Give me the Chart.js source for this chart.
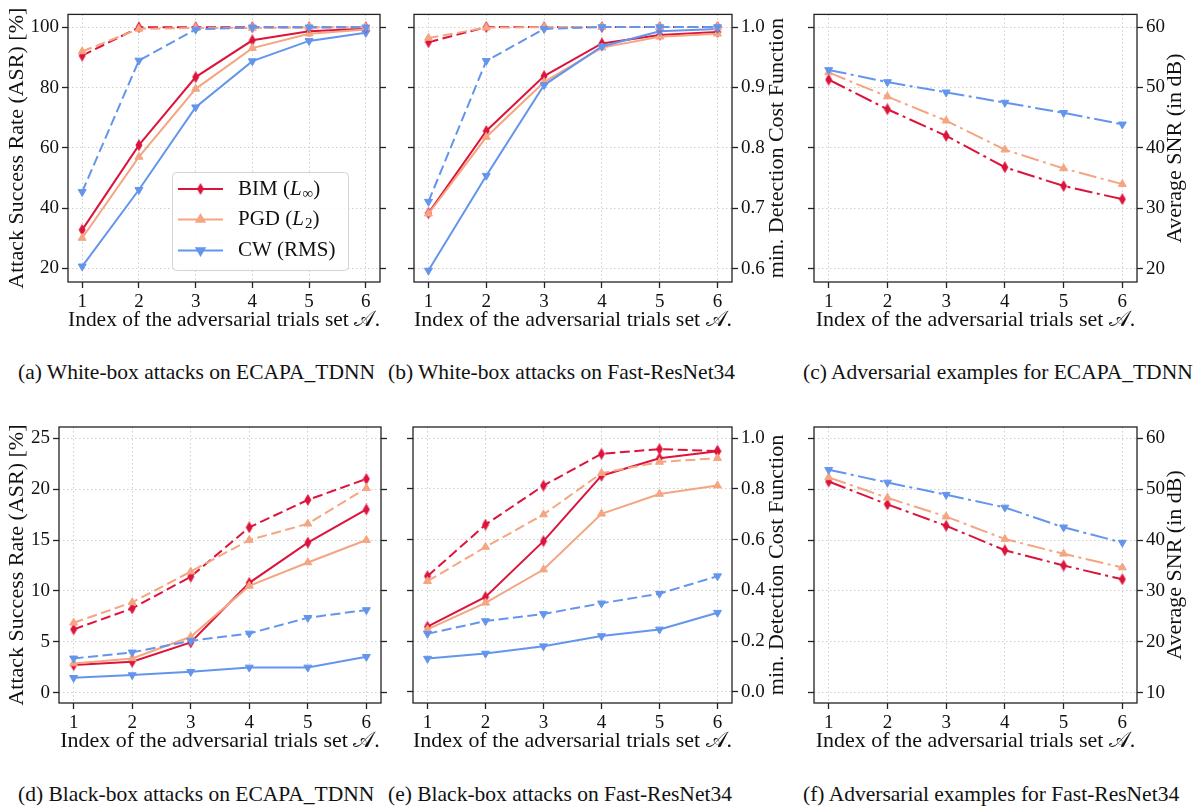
<!DOCTYPE html>
<html>
<head>
<meta charset="utf-8">
<script src="https://cdn.jsdelivr.net/npm/chart.js@4.4.1/dist/chart.umd.min.js"></script>
<style>
html,body{margin:0;padding:0;background:#fff;}
#fig{position:relative;width:1204px;height:808px;overflow:hidden;}
.cap{position:absolute;font-family:"Liberation Serif","Times New Roman",serif;font-size:21.5px;line-height:1;color:#111;white-space:nowrap;}
</style>
</head>
<body>
<div id="fig">
  <div class="cap" style="left:18px;top:362px">(a) White-box attacks on ECAPA_TDNN</div>
  <div class="cap" style="left:388px;top:362px">(b) White-box attacks on Fast-ResNet34</div>
  <div class="cap" style="left:803px;top:362px">(c) Adversarial examples for ECAPA_TDNN</div>
  <div class="cap" style="left:18px;top:784px">(d) Black-box attacks on ECAPA_TDNN</div>
  <div class="cap" style="left:388px;top:784px">(e) Black-box attacks on Fast-ResNet34</div>
  <div class="cap" style="left:803px;top:784px">(f) Adversarial examples for Fast-ResNet34</div>
</div>
<script>
'use strict';

/* Index der Trial-Sets (x-Achse, alle Panels) */
const trialIdx = [1, 2, 3, 4, 5, 6];

/* (a) White-box, ECAPA_TDNN — ASR [%]; "D" = gestrichelte Variante */
const aBim  = [32.8, 60.9, 83.5, 95.7, 98.7, 99.5];
const aPgd  = [30.1, 57.0, 79.6, 93.1, 97.9, 99.3];
const aCw   = [20.7, 46.1, 73.5, 88.8, 95.5, 98.2];
const aBimD = [90.6, 100, 100, 100, 100, 100];
const aPgdD = [92.0, 99.5, 99.8, 99.8, 100, 100];
const aCwD  = [45.4, 89.0, 99.3, 100, 100, 100];
const aTicks = [20, 40, 60, 80, 100];

/* (b) White-box, Fast-ResNet34 — minDCF */
const bBim  = [0.692, 0.828, 0.919, 0.973, 0.987, 0.992];
const bPgd  = [0.691, 0.818, 0.909, 0.966, 0.984, 0.989];
const bCw   = [0.597, 0.754, 0.904, 0.968, 0.993, 0.997];
const bBimD = [0.975, 1.0, 1.0, 1.0, 1.0, 1.0];
const bPgdD = [0.982, 0.999, 1.0, 1.0, 1.0, 1.0];
const bCwD  = [0.711, 0.944, 0.997, 1.0, 1.0, 1.0];
const bTicks = [0.6, 0.7, 0.8, 0.9, 1.0];

/* (c) SNR der Beispiele, ECAPA_TDNN [dB] */
const cBim = [51.3, 46.4, 42.0, 36.8, 33.7, 31.5];
const cPgd = [52.5, 48.5, 44.5, 39.7, 36.6, 34.0];
const cCw  = [52.9, 50.9, 49.2, 47.5, 45.8, 43.9];
const cTicks = [20, 30, 40, 50, 60];

/* (d) Black-box, ECAPA_TDNN — ASR [%] */
const dBim  = [2.72, 3.05, 4.95, 10.8, 14.75, 18.0];
const dPgd  = [2.88, 3.38, 5.5, 10.5, 12.8, 15.0];
const dCw   = [1.47, 1.74, 2.06, 2.49, 2.49, 3.54];
const dBimD = [6.23, 8.29, 11.4, 16.25, 18.94, 21.0];
const dPgdD = [6.88, 8.88, 11.9, 15.0, 16.6, 20.1];
const dCwD  = [3.38, 3.97, 5.1, 5.83, 7.37, 8.13];
const dTicks = [0, 5, 10, 15, 20, 25];

/* (e) Black-box, Fast-ResNet34 — minDCF */
const eBim  = [0.257, 0.374, 0.594, 0.852, 0.921, 0.948];
const ePgd  = [0.246, 0.351, 0.482, 0.702, 0.780, 0.813];
const eCw   = [0.131, 0.151, 0.180, 0.220, 0.246, 0.312];
const eBimD = [0.456, 0.659, 0.813, 0.938, 0.957, 0.949];
const ePgdD = [0.436, 0.571, 0.699, 0.862, 0.906, 0.921];
const eCwD  = [0.229, 0.279, 0.307, 0.349, 0.387, 0.456];
const eTicks = [0, 0.2, 0.4, 0.6, 0.8, 1.0];

/* (f) SNR der Beispiele, Fast-ResNet34 [dB] */
const fBim = [51.5, 47.0, 42.8, 38.0, 35.0, 32.3];
const fPgd = [52.3, 48.3, 44.6, 40.2, 37.3, 34.6];
const fCw  = [53.8, 51.3, 48.9, 46.4, 42.5, 39.5];
const fTicks = [10, 20, 30, 40, 50, 60];

/* ---------- Stil ---------- */
const C_BIM = '#dc143c', C_PGD = '#f4a582', C_CW = '#6495ed';
const SERIF = '"Liberation Serif","Times New Roman","DejaVu Serif","DejaVu Sans",serif';
const DASH = [10, 4.5], DASHDOT = [18, 4.5, 3, 4.5];
const INK = '#111', SPINE = '#222', GRID = '#cfcfcf';

// schmale Raute (matplotlib 'd') als Bild-Marker
function thinDiamond(color){
  const c = document.createElement('canvas'); c.width = 8; c.height = 12;
  const g = c.getContext('2d'); g.fillStyle = color;
  g.beginPath(); g.moveTo(4,0); g.lineTo(7.5,6); g.lineTo(4,12); g.lineTo(0.5,6); g.closePath(); g.fill();
  return c;
}
const DIAMOND = thinDiamond(C_BIM);
const KIND = {
  bim:{ color:C_BIM, style:DIAMOND,    rot:0 },
  pgd:{ color:C_PGD, style:'triangle', rot:0 },
  cw: { color:C_CW,  style:'triangle', rot:180 },
};

function line(kind, values, dash){
  const k = KIND[kind];
  return { data: trialIdx.map((x,i)=>({x, y:values[i]})),
    borderColor:k.color, backgroundColor:k.color, borderWidth:2, borderDash:dash||[],
    pointStyle:k.style, pointRotation:k.rot, pointRadius:4.6, pointHoverRadius:4.6,
    pointBorderWidth:1, pointBorderColor:k.color, pointBackgroundColor:k.color, tension:0 };
}

/* ---------- Plugins ---------- */
const frame = { id:'frame', afterDatasetsDraw(ch){
  const a = ch.chartArea, g = ch.ctx;
  g.save(); g.strokeStyle = SPINE; g.lineWidth = 1.3;
  g.strokeRect(a.left, a.top, a.right-a.left, a.bottom-a.top); g.restore();
}};
// rechte Achsenbeschriftung, von unten nach oben gelesen
const rightTitle = { id:'rightTitle', afterDraw(ch, args, o){
  if(!o.text) return;
  const g = ch.ctx, a = ch.chartArea;
  g.save(); g.translate(o.x, (a.top+a.bottom)/2); g.rotate(-Math.PI/2);
  g.font = `22px ${SERIF}`; g.fillStyle = INK; g.textAlign = 'center'; g.textBaseline = 'middle';
  g.fillText(o.text, 0, 0); g.restore();
}};
const LEGEND = [
  { kind:'bim', parts:[['BIM (',''],['L','i'],['\u221E','sub'],[')','']] },
  { kind:'pgd', parts:[['PGD (',''],['L','i'],['2','sub'],[')','']] },
  { kind:'cw',  parts:[['CW (RMS)','']] },
];
const legendBox = { id:'legendBox', afterDraw(ch, args, o){
  if(!o.show) return;
  const g = ch.ctx, [x0,y0,w,h] = o.box;
  g.save();
  g.beginPath(); g.roundRect(x0+0.5, y0+0.5, w, h, 4);
  g.fillStyle = 'rgba(255,255,255,0.85)'; g.fill();
  g.strokeStyle = '#d4d4d4'; g.lineWidth = 1; g.stroke();
  LEGEND.forEach((it, i) => {
    const k = KIND[it.kind], y = o.rows[i];
    g.strokeStyle = k.color; g.lineWidth = 2; g.setLineDash([]);
    g.beginPath(); g.moveTo(x0+6, y); g.lineTo(x0+51, y); g.stroke();
    Chart.helpers.drawPoint(g, { pointStyle:k.style, rotation:k.rot, radius:4.6, borderWidth:1 }, x0+28.5, y);
    g.fillStyle = k.color; g.fill();
    let tx = x0 + 66;
    g.fillStyle = INK; g.textBaseline = 'middle'; g.textAlign = 'left';
    it.parts.forEach(([t, st]) => {
      g.font = st==='i' ? `italic 21px ${SERIF}` : st==='sub' ? `15px ${SERIF}` : `21px ${SERIF}`;
      g.fillText(t, tx, st==='sub' ? y+5 : y);
      tx += g.measureText(t).width + (st==='i' ? 1 : 0);
    });
  });
  g.restore();
}};

/* ---------- Panels ---------- */
const PANELS = [
  { box:[0,0,400,340],   area:[68,380,5,282],   y:[15.5,104.3], ticks:aTicks, dec:0, side:'left',
    title:'Attack Success Rate (ASR) [%]', legend:true,
    sets:[line('cw',aCwD,DASH), line('pgd',aPgdD,DASH), line('bim',aBimD,DASH), line('cw',aCw), line('pgd',aPgd), line('bim',aBim)] },
  { box:[400,0,400,340], area:[414,732,5,282],  y:[0.578,1.021], ticks:bTicks, dec:1, side:'right',
    title:'min. Detection Cost Function', titleX:377,
    sets:[line('cw',bCwD,DASH), line('pgd',bPgdD,DASH), line('bim',bBimD,DASH), line('cw',bCw), line('pgd',bPgd), line('bim',bBim)] },
  { box:[800,0,404,340], area:[814,1137,5,282], y:[17.8,62.1], ticks:cTicks, dec:0, side:'right',
    title:'Average SNR (in dB)', titleX:375,
    sets:[line('cw',cCw,DASHDOT), line('pgd',cPgd,DASHDOT), line('bim',cBim,DASHDOT)] },
  { box:[0,410,400,351], area:[59,381,427,703], y:[-1.0,26.1], ticks:dTicks, dec:0, side:'left',
    title:'Attack Success Rate (ASR) [%]',
    sets:[line('cw',dCwD,DASH), line('pgd',dPgdD,DASH), line('bim',dBimD,DASH), line('cw',dCw), line('pgd',dPgd), line('bim',dBim)] },
  { box:[400,410,400,351], area:[413,732,427,703], y:[-0.044,1.044], ticks:eTicks, dec:1, side:'right',
    title:'min. Detection Cost Function', titleX:377,
    sets:[line('cw',eCwD,DASH), line('pgd',ePgdD,DASH), line('bim',eBimD,DASH), line('cw',eCw), line('pgd',ePgd), line('bim',eBim)] },
  { box:[800,410,404,351], area:[814,1137,427,703], y:[8.0,62.2], ticks:fTicks, dec:0, side:'right',
    title:'Average SNR (in dB)', titleX:375,
    sets:[line('cw',fCw,DASHDOT), line('pgd',fPgd,DASHDOT), line('bim',fBim,DASHDOT)] },
];

function makeChart(p){
  const [cl, ct, cw, ch] = p.box, [al, ar, at, ab] = p.area;
  const cv = document.createElement('canvas');
  cv.width = cw; cv.height = ch;
  cv.style.cssText = `position:absolute;left:${cl}px;top:${ct}px;width:${cw}px;height:${ch}px`;
  document.getElementById('fig').appendChild(cv);

  const tickFont = { family:SERIF, size:19 };
  const gridOpts = (onArea) => ({ drawOnChartArea:onArea, color:GRID, lineWidth:1, drawTicks:true,
    tickLength:6, tickColor:SPINE, tickWidth:1.3, tickBorderDash:[] });
  const yAxis = (isLeft) => {
    const labelled = (p.side==='left') === isLeft;
    return { type:'linear', position:isLeft?'left':'right', min:p.y[0], max:p.y[1],
      afterBuildTicks: s => { s.ticks = p.ticks.map(v=>({value:v})); },
      afterFit: s => { s.width = isLeft ? al-cl : cl+cw-ar; },
      border:{ display:false, dash:[1.5,2.5] },
      grid: gridOpts(isLeft),
      ticks:{ display:labelled, font:tickFont, color:INK, padding:3, callback:v=>Number(v).toFixed(p.dec) },
      title:{ display: labelled && isLeft, text:p.title, font:{family:SERIF,size:22}, color:INK, padding:{top:4.3, bottom:0} } };
  };

  return new Chart(cv, {
    type:'line',
    data:{ datasets:p.sets },
    options:{
      responsive:false, animation:false, events:[],
      layout:{ padding:{ top:at-ct, left:0, right:0, bottom:0 } },
      scales:{
        x:{ type:'linear', min:0.75, max:6.25,
          afterBuildTicks: s => { s.ticks = trialIdx.map(v=>({value:v})); },
          afterFit: s => { s.height = ct+ch-ab; },
          border:{ display:false, dash:[1.5,2.5] },
          grid: gridOpts(true),
          ticks:{ font:tickFont, color:INK, padding:3, maxRotation:0, callback:v=>String(v) },
          title:{ display:true, text:'Index of the adversarial trials set \u{1D49C}.', font:{family:SERIF,size:22}, color:INK, padding:{top:0,bottom:6.8} } },
        y: yAxis(true),
        y2: yAxis(false),
      },
      plugins:{
        legend:{ display:false }, tooltip:{ enabled:false },
        rightTitle: p.side==='right' ? { text:p.title, x:p.titleX } : {},
        legendBox: p.legend ? { show:true, box:[172,172,176,98], rows:[189,219.5,250.5] } : {},
      }
    },
    plugins:[frame, rightTitle, legendBox]
  });
}

PANELS.forEach(makeChart);
</script>
</body>
</html>
